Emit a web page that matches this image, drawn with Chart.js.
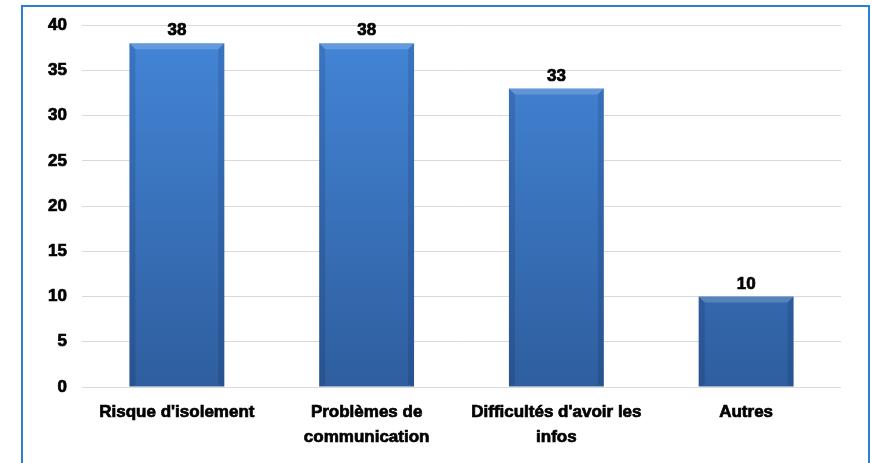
<!DOCTYPE html>
<html>
<head>
<meta charset="utf-8">
<script src="https://cdn.jsdelivr.net/npm/chart.js@4"></script>
<style>
  html, body { margin: 0; padding: 0; background: #ffffff; }
  #wrap { position: relative; width: 872px; height: 463px; overflow: hidden; }
  #frame { position: absolute; left: 21px; top: 5px; width: 845px; height: 480px; border: 2px solid #2c7fd6; box-sizing: content-box; }
  canvas { position: absolute; left: 0; top: 0; }
</style>
</head>
<body>
<div id="wrap">
  <div id="frame"></div>
  <canvas id="c" width="872" height="463"></canvas>
</div>
<script>
const categories = [
  "Risque d'isolement",
  ["Problèmes de", "communication"],
  ["Difficultés d'avoir les", "infos"],
  "Autres"
];
const values = [38, 38, 33, 10];
const yTicks = { min: 0, max: 40, step: 5 };

const FONT = "'Liberation Sans', Arial, sans-serif";

const valueLabels = {
  id: 'valueLabels',
  afterDatasetsDraw(chart) {
    const ctx = chart.ctx;
    const meta = chart.getDatasetMeta(0);
    ctx.save();
    ctx.font = "bold 17px " + FONT;
    ctx.fillStyle = '#000000';
    ctx.strokeStyle = '#000000';
    ctx.lineWidth = 0.7;
    ctx.textAlign = 'center';
    ctx.textBaseline = 'alphabetic';
    meta.data.forEach((bar, i) => {
      ctx.fillText(String(values[i]), bar.x, bar.y - 8);
      ctx.strokeText(String(values[i]), bar.x, bar.y - 8);
    });
    ctx.restore();
  }
};

const bevel = {
  id: 'bevel',
  afterDatasetsDraw(chart) {
    const ctx = chart.ctx;
    const meta = chart.getDatasetMeta(0);
    ctx.save();
    meta.data.forEach((bar) => {
      const l = bar.x - bar.width / 2, r = bar.x + bar.width / 2;
      const t = bar.y, b = bar.base;
      const e = 6;
      ctx.fillStyle = 'rgba(255,255,255,0.18)';
      ctx.beginPath();
      ctx.moveTo(l, t); ctx.lineTo(r, t); ctx.lineTo(r - e, t + e); ctx.lineTo(l + e, t + e); ctx.closePath(); ctx.fill();
      ctx.fillStyle = 'rgba(0,0,40,0.12)';
      ctx.beginPath();
      ctx.moveTo(l, t); ctx.lineTo(l + e, t + e); ctx.lineTo(l + e, b - 2); ctx.lineTo(l, b); ctx.closePath(); ctx.fill();
      ctx.beginPath();
      ctx.moveTo(r, t); ctx.lineTo(r - e, t + e); ctx.lineTo(r - e, b - 2); ctx.lineTo(r, b); ctx.closePath(); ctx.fill();
    });
    ctx.restore();
  }
};

const ctx = document.getElementById('c').getContext('2d');
new Chart(ctx, {
  type: 'bar',
  data: {
    labels: categories,
    datasets: [{
      data: values,
      backgroundColor: (c) => {
        const area = c.chart.chartArea;
        if (!area) return '#3a78c6';
        const g = c.chart.ctx.createLinearGradient(0, area.top, 0, area.bottom);
        g.addColorStop(0, '#4486d8');
        g.addColorStop(1, '#2e5e9e');
        return g;
      },
      borderWidth: 0,
      barPercentage: 0.5,
      categoryPercentage: 1.0
    }]
  },
  options: {
    responsive: false,
    animation: false,
    devicePixelRatio: 1,
    layout: { padding: { left: 22, right: 31, top: 25, bottom: 0 } },
    plugins: { legend: { display: false }, tooltip: { enabled: false } },
    scales: {
      x: {
        grid: { display: false, drawTicks: false },
        border: { display: false },
        ticks: {
          color: '#000000',
          textStrokeColor: '#000000',
          textStrokeWidth: 0.7,
          font: { family: FONT, size: 17, weight: 'bold', lineHeight: 1.45 },
          padding: 13,
          maxRotation: 0,
          autoSkip: false
        },
        afterFit(scale) { scale.height = 76; }
      },
      y: {
        min: yTicks.min,
        max: yTicks.max,
        grid: { color: '#d9d9d9', lineWidth: 1, drawTicks: false },
        border: { display: false },
        ticks: {
          stepSize: yTicks.step,
          color: '#000000',
          textStrokeColor: '#000000',
          textStrokeWidth: 0.7,
          font: { family: FONT, size: 17, weight: 'bold' },
          padding: 15
        },
        afterFit(scale) { scale.width = 60; }
      }
    }
  },
  plugins: [bevel, valueLabels]
});
</script>
</body>
</html>
